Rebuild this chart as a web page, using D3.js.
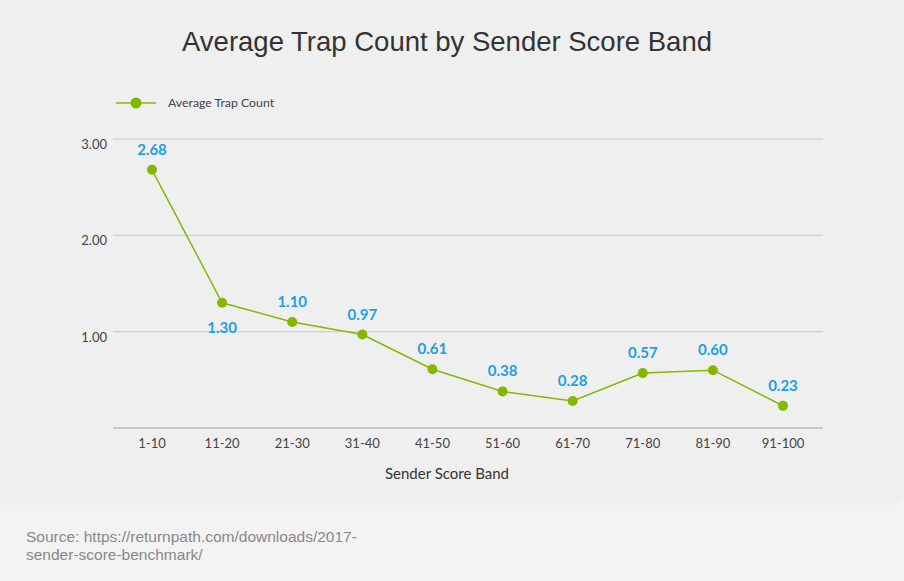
<!DOCTYPE html><html><head><meta charset="utf-8">
<script src="https://cdn.jsdelivr.net/npm/d3@7"></script>
<style>body{margin:0;background:#f3f3f3;}</style></head><body>
<svg id="c" width="904" height="581"></svg>
<script>
const categories=["1-10","11-20","21-30","31-40","41-50","51-60","61-70","71-80","81-90","91-100"];
const values=[2.68,1.30,1.10,0.97,0.61,0.38,0.28,0.57,0.60,0.23];
const yTicks=[0,1,2,3];
const labelBelow=[false,true,false,false,false,false,false,false,false,false];
const svg=d3.select("#c");
svg.append("rect").attr("x",-10).attr("y",-10).attr("width",914).attr("height",515).attr("rx",10).attr("fill","#efefef");
svg.append("text").attr("x",447).attr("y",51).attr("text-anchor","middle").attr("font-family","Liberation Sans, Arial").attr("font-size",27.5).attr("fill","#333").text("Average Trap Count by Sender Score Band");
const x=d3.scalePoint().domain(categories).range([152,783]);
const y=d3.scaleLinear().domain([0,3]).range([428,139]);
const g=svg.append("g");
yTicks.forEach(t=>{g.append("line").attr("x1",113).attr("x2",823).attr("y1",y(t)).attr("y2",y(t)).attr("stroke",t===0?"#bbb":"#c8c8c8").attr("stroke-width",t===0?1.5:1);
 if(t>0)g.append("text").attr("x",107).attr("y",y(t)+10).attr("text-anchor","end").attr("font-family","Lato").attr("font-size",13).attr("fill","#444").text(d3.format(".2f")(t));});
categories.forEach(c=>g.append("text").attr("x",x(c)).attr("y",448).attr("text-anchor","middle").attr("font-family","Lato").attr("font-size",13).attr("fill","#444").text(c));
g.append("text").attr("x",447).attr("y",479).attr("text-anchor","middle").attr("font-family","Lato").attr("font-size",15).attr("fill","#333").text("Sender Score Band");
const line=d3.line().x((d,i)=>x(categories[i])).y(d=>y(d));
g.append("path").attr("d",line(values)).attr("fill","none").attr("stroke","#84b800").attr("stroke-width",1.5);
values.forEach((v,i)=>{g.append("circle").attr("cx",x(categories[i])).attr("cy",y(v)).attr("r",5).attr("fill","#84b800");
 g.append("text").attr("x",x(categories[i])).attr("y",labelBelow[i]?y(v)+30:y(v)-15).attr("text-anchor","middle").attr("font-family","Lato").attr("font-weight","bold").attr("font-size",15).attr("fill","#1ba1e2").text(v.toFixed(2));});
svg.append("line").attr("x1",116).attr("x2",156).attr("y1",103).attr("y2",103).attr("stroke","#84b800").attr("stroke-width",1.5);
svg.append("circle").attr("cx",136).attr("cy",103).attr("r",5.5).attr("fill","#84b800");
svg.append("text").attr("x",168).attr("y",107).attr("font-family","Lato").attr("font-size",12.3).attr("fill","#444").text("Average Trap Count");
svg.append("text").attr("x",26).attr("y",542).attr("font-family","Liberation Sans, Arial").attr("font-size",15.5).attr("fill","#888").text("Source: https://returnpath.com/downloads/2017-");
svg.append("text").attr("x",26).attr("y",560).attr("font-family","Liberation Sans, Arial").attr("font-size",15.5).attr("fill","#888").text("sender-score-benchmark/");
</script></body></html>
